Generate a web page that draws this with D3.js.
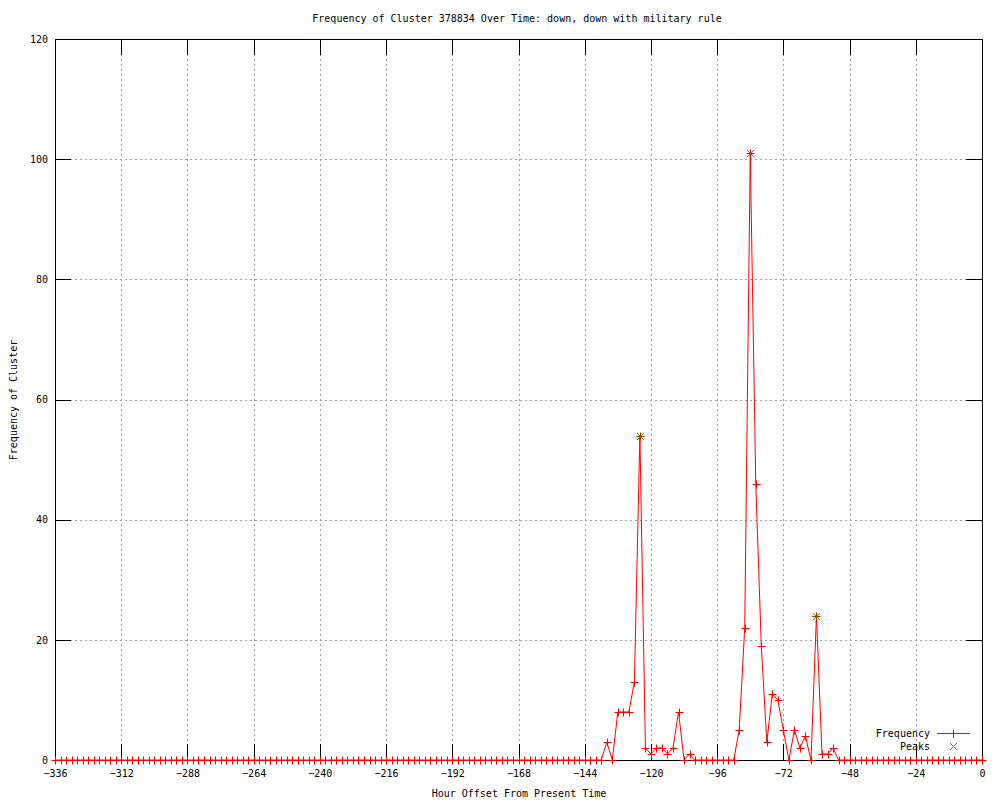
<!DOCTYPE html>
<html>
<head>
<meta charset="utf-8">
<script src="https://cdn.jsdelivr.net/npm/d3@7"></script>
<style>
body{margin:0;background:#fff;}
text{font-family:"DejaVu Sans Mono",monospace;font-size:10px;fill:#000;}
</style>
</head>
<body>
<svg id="canvas"></svg>
<script>
let hours=[-336,-334,-332,-330,-328,-326,-324,-322,-320,-318,-316,-314,-312,-310,-308,-306,-304,-302,-300,-298,
-296,-294,-292,-290,-288,-286,-284,-282,-280,-278,-276,-274,-272,-270,-268,-266,-264,-262,-260,-258,
-256,-254,-252,-250,-248,-246,-244,-242,-240,-238,-236,-234,-232,-230,-228,-226,-224,-222,-220,-218,
-216,-214,-212,-210,-208,-206,-204,-202,-200,-198,-196,-194,-192,-190,-188,-186,-184,-182,-180,-178,
-176,-174,-172,-170,-168,-166,-164,-162,-160,-158,-156,-154,-152,-150,-148,-146,-144,-142,-140,-138,
-136,-134,-132,-130,-128,-126,-124,-122,-120,-118,-116,-114,-112,-110,-108,-106,-104,-102,-100,-98,
-96,-94,-92,-90,-88,-86,-84,-82,-80,-78,-76,-74,-72,-70,-68,-66,-64,-62,-60,-58,
-56,-54,-52,-50,-48,-46,-44,-42,-40,-38,-36,-34,-32,-30,-28,-26,-24,-22,-20,-18,
-16,-14,-12,-10,-8,-6,-4,-2,0];
let counts=[0,0,0,0,0,0,0,0,0,0,0,0,0,0,0,0,0,0,0,0,
0,0,0,0,0,0,0,0,0,0,0,0,0,0,0,0,0,0,0,0,
0,0,0,0,0,0,0,0,0,0,0,0,0,0,0,0,0,0,0,0,
0,0,0,0,0,0,0,0,0,0,0,0,0,0,0,0,0,0,0,0,
0,0,0,0,0,0,0,0,0,0,0,0,0,0,0,0,0,0,0,0,
3,0,8,8,8,13,54,2,1,2,2,1,2,8,0,1,0,0,0,0,
0,0,0,0,5,22,101,46,19,3,11,10,5,0,5,2,4,0,24,1,
1,2,0,0,0,0,0,0,0,0,0,0,0,0,0,0,0,0,0,0,
0,0,0,0,0,0,0,0,0];
let peakHours=[-124,-84,-60];
let peakCounts=[54,101,24];
let xTicks=[-336,-312,-288,-264,-240,-216,-192,-168,-144,-120,-96,-72,-48,-24,0];
let yTicks=[0,20,40,60,80,100,120];

let width=1000,height=800;
let padLeft=55,padRight=982,padTop=39,padBottom=760;
let tick=16;

let values=hours.map((h,i)=>({hour:h,count:counts[i]}));
let peaks=peakHours.map((h,i)=>({hour:h,count:peakCounts[i]}));

let canvas=d3.select('#canvas').attr('width',width).attr('height',height);

let xscale=d3.scaleLinear().domain([-336,0]).range([padLeft,padRight]);
let yscale=d3.scaleLinear().domain([0,120]).range([padBottom,padTop]);

// grid
let grid=canvas.append('g').attr('stroke','#a0a0a0').attr('stroke-dasharray','2,3').attr('shape-rendering','crispEdges');
grid.selectAll('.gx').data(xTicks).enter().append('line')
    .attr('x1',d=>xscale(d)+0.5).attr('x2',d=>xscale(d)+0.5)
    .attr('y1',padTop).attr('y2',padBottom);
grid.selectAll('.gy').data(yTicks).enter().append('line')
    .attr('x1',padLeft).attr('x2',padRight)
    .attr('y1',d=>yscale(d)+0.5).attr('y2',d=>yscale(d)+0.5);

// axes, ticks inward and mirrored
function styleAxis(g){
    g.select('.domain').remove();
    g.selectAll('.tick line').attr('stroke','#000').attr('shape-rendering','crispEdges');
    g.selectAll('text').attr('fill','#000').style('font-family','"DejaVu Sans Mono",monospace').style('font-size','10px');
}
canvas.append('g').attr('transform','translate(0,'+padBottom+')')
    .call(d3.axisBottom(xscale).tickValues(xTicks).tickSize(-tick).tickPadding(10).tickFormat(d3.format('d')))
    .call(styleAxis);
canvas.append('g').attr('transform','translate(0,'+padTop+')')
    .call(d3.axisTop(xscale).tickValues(xTicks).tickSize(-tick).tickFormat(''))
    .call(styleAxis);
canvas.append('g').attr('transform','translate('+padLeft+',0)')
    .call(d3.axisLeft(yscale).tickValues(yTicks).tickSize(-tick).tickPadding(7))
    .call(styleAxis);
canvas.append('g').attr('transform','translate('+padRight+',0)')
    .call(d3.axisRight(yscale).tickValues(yTicks).tickSize(-tick).tickFormat(''))
    .call(styleAxis);

canvas.append('rect')
    .attr('x',padLeft+0.5).attr('y',padTop+0.5)
    .attr('width',padRight-padLeft).attr('height',padBottom-padTop)
    .attr('fill','none').attr('stroke','#000').attr('shape-rendering','crispEdges');

// series line
let line=d3.line().x(d=>xscale(d.hour)).y(d=>yscale(d.count));
canvas.append('path').datum(values)
    .attr('d',line).attr('fill','none').attr('stroke','#ff0000').attr('stroke-width',1);

let plus='M-4,0H4M0,-4V4';
let cross='M-3.5,-3.5L3.5,3.5M-3.5,3.5L3.5,-3.5';

canvas.append('g').selectAll('path').data(values).enter().append('path')
    .attr('d',plus).attr('transform',d=>'translate('+(Math.round(xscale(d.hour))+0.5)+','+(Math.round(yscale(d.count))+0.5)+')')
    .attr('stroke','#ff0000').attr('fill','none');

canvas.append('g').selectAll('path').data(peaks).enter().append('path')
    .attr('d',cross).attr('transform',d=>'translate('+(Math.round(xscale(d.hour))+0.5)+','+(Math.round(yscale(d.count))+0.5)+')')
    .attr('stroke','#00c000').attr('fill','none');

// legend
let legend=canvas.append('g');
legend.append('text').attr('x',930).attr('y',737).attr('text-anchor','end').text('Frequency');
legend.append('line').attr('x1',937).attr('x2',970).attr('y1',733.5).attr('y2',733.5)
    .attr('stroke','#ff0000').attr('shape-rendering','crispEdges');
legend.append('path').attr('d',plus).attr('transform','translate(953.5,733.5)')
    .attr('stroke','#ff0000').attr('fill','none').attr('shape-rendering','crispEdges');
legend.append('text').attr('x',930).attr('y',750).attr('text-anchor','end').text('Peaks');
legend.append('path').attr('d',cross).attr('transform','translate(953.5,746.5)')
    .attr('stroke','#00c000').attr('fill','none');

// titles
canvas.append('text').attr('x',517).attr('y',22).attr('text-anchor','middle')
    .text('Frequency of Cluster 378834 Over Time: down, down with military rule');
canvas.append('text').attr('x',519).attr('y',797).attr('text-anchor','middle')
    .text('Hour Offset From Present Time');
canvas.append('text').attr('transform','translate(17,400) rotate(-90)').attr('text-anchor','middle')
    .text('Frequency of Cluster');
</script>
</body>
</html>
